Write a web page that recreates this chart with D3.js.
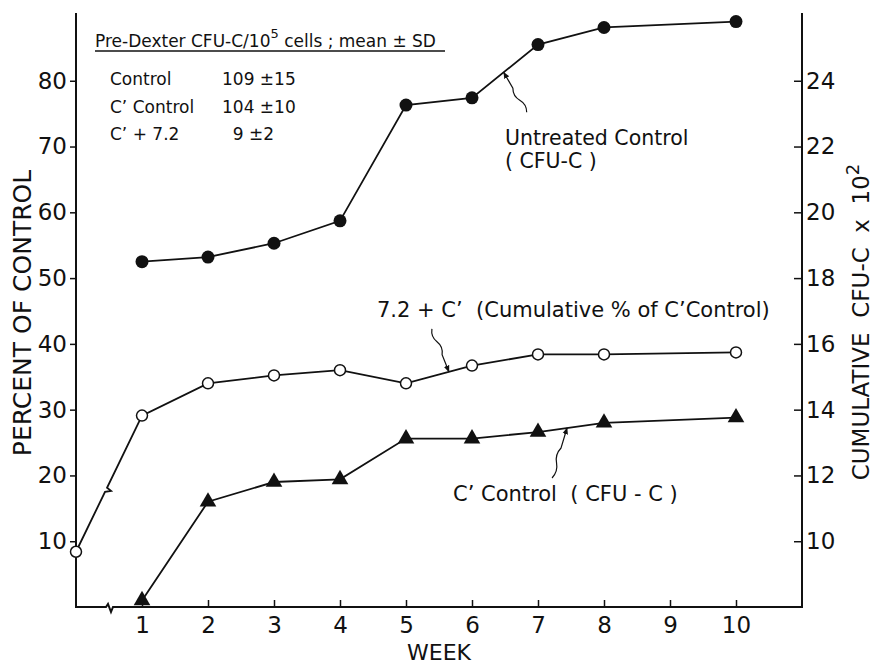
<!DOCTYPE html>
<html>
<head>
<meta charset="utf-8">
<script src="https://cdn.jsdelivr.net/npm/d3@7"></script>
<style>
  body { margin: 0; background: #fff; }
  text { font-family: "DejaVu Sans", sans-serif; fill: #111; white-space: pre; }
</style>
</head>
<body>
<script>
// data
var weeks = [1, 2, 3, 4, 5, 6, 7, 8, 10];
var untreated = [52.5, 53.2, 55.3, 58.7, 76.3, 77.4, 85.5, 88.1, 89.0];
var cumWeeks = [0, 1, 2, 3, 4, 5, 6, 7, 8, 10];
var cumulative = [8.4, 29.1, 34.0, 35.2, 36.0, 34.0, 36.7, 38.4, 38.4, 38.7];
var cControl = [1.0, 16.0, 19.0, 19.4, 25.6, 25.6, 26.6, 28.0, 28.8];

var leftTicks = [10, 20, 30, 40, 50, 60, 70, 80];
var rightTicks = [10, 12, 14, 16, 18, 20, 22, 24];
var weekTicks = [1, 2, 3, 4, 5, 6, 7, 8, 9, 10];

var tableNames = ["Control", "C\u2019 Control", "C\u2019 + 7.2"];
var tableValues = ["109 \u00b115", "104 \u00b110", "  9 \u00b12"];

var width = 875, height = 665;
var pLeft = 76, pRight = 802, pTop = 13, pBottom = 607;
var yMax = 90.3;

var svg = d3.select("body").append("svg")
    .attr("width", width)
    .attr("height", height);

var x = d3.scaleLinear().domain([0, 11]).range([pLeft, pRight]);
var y = d3.scaleLinear().domain([0, yMax]).range([pBottom, pTop]);
// right axis: cumulative CFU-C x 10^2, 24 sits on 80, 10 on 10
var yR = d3.scaleLinear().domain([8, 8 + yMax / 5]).range([pBottom, pTop]);

var defs = svg.append("defs");
defs.append("marker")
    .attr("id", "arrow")
    .attr("viewBox", "0 0 10 10")
    .attr("refX", 9).attr("refY", 5)
    .attr("markerWidth", 7).attr("markerHeight", 7)
    .attr("markerUnits", "userSpaceOnUse")
    .attr("orient", "auto")
  .append("path")
    .attr("d", "M0,1 L10,5 L0,9 Z")
    .attr("fill", "#111");

// axis lines, with the break on the week axis
var xb = x(0.5);
svg.append("path")
    .attr("d", "M" + pLeft + "," + pTop + " L" + pLeft + "," + pBottom +
        " L" + (xb - 3) + "," + pBottom + " L" + (xb - 1) + "," + (pBottom - 3) +
        " L" + (xb + 2) + "," + (pBottom + 5) + " L" + (xb + 4) + "," + pBottom +
        " L" + pRight + "," + pBottom + " L" + pRight + "," + pTop)
    .attr("fill", "none")
    .attr("stroke", "#111")
    .attr("stroke-width", 2);

var gl = svg.append("g")
    .attr("transform", "translate(" + pLeft + ",0)")
    .call(d3.axisLeft(y).tickValues(leftTicks).tickSize(6).tickPadding(3)
        .tickFormat(d3.format("d")));
var gr = svg.append("g")
    .attr("transform", "translate(" + pRight + ",0)")
    .call(d3.axisRight(yR).tickValues(rightTicks).tickSize(-8).tickPadding(4)
        .tickFormat(d3.format("d")));
var gb = svg.append("g")
    .attr("transform", "translate(0," + pBottom + ")")
    .call(d3.axisBottom(x).tickValues(weekTicks).tickSize(-7).tickPadding(10)
        .tickFormat(d3.format("d")));

[gl, gr, gb].forEach(function(g) {
    g.select(".domain").remove();
    g.selectAll(".tick line").attr("stroke", "#111").attr("stroke-width", 1.5);
    g.selectAll(".tick text")
        .style("font-family", "DejaVu Sans")
        .style("font-size", "23px")
        .attr("fill", "#111");
});

// axis titles
svg.append("text")
    .attr("transform", "translate(31,313) rotate(-90)")
    .attr("text-anchor", "middle")
    .style("font-size", "25px")
    .text("PERCENT OF CONTROL");

var rt = svg.append("text")
    .attr("transform", "translate(869,322) rotate(-90)")
    .attr("text-anchor", "middle")
    .style("font-size", "23px");
rt.append("tspan").text("CUMULATIVE  CFU-C  x  10");
rt.append("tspan").attr("dy", -10).style("font-size", "18px").text("2");

svg.append("text")
    .attr("x", x(5.5)).attr("y", 660)
    .attr("text-anchor", "middle")
    .style("font-size", "22px")
    .text("WEEK");

// lines
var line = d3.line().x(function(d) { return x(d[0]); })
    .y(function(d) { return y(d[1]); });

var untreatedPts = weeks.map(function(w, i) { return [w, untreated[i]]; });
var cumPts = cumWeeks.map(function(w, i) { return [w, cumulative[i]]; });
var cPts = weeks.map(function(w, i) { return [w, cControl[i]]; });

function lerp(pts, i, t) {
    var a = pts[i], b = pts[i + 1];
    return [x(a[0] + (b[0] - a[0]) * t), y(a[1] + (b[1] - a[1]) * t)];
}

svg.append("path").datum(untreatedPts)
    .attr("d", line).attr("fill", "none")
    .attr("stroke", "#111").attr("stroke-width", 1.8);
svg.append("path").datum(cPts)
    .attr("d", line).attr("fill", "none")
    .attr("stroke", "#111").attr("stroke-width", 1.8);

// cumulative line, with a small break in the first segment
var m1 = lerp(cumPts, 0, 0.44), m2 = lerp(cumPts, 0, 0.47);
svg.append("path")
    .attr("d", "M" + x(cumPts[0][0]) + "," + y(cumPts[0][1]) +
        " L" + m1[0] + "," + m1[1] + " L" + (m1[0] + 6) + "," + (m1[1] - 1) +
        " L" + m2[0] + "," + m2[1] + " " + line(cumPts.slice(1)).replace("M", "L"))
    .attr("fill", "none")
    .attr("stroke", "#111").attr("stroke-width", 1.8);

// markers
svg.selectAll(".dot").data(untreatedPts).enter().append("circle")
    .attr("cx", function(d) { return x(d[0]); })
    .attr("cy", function(d) { return y(d[1]); })
    .attr("r", 6.5).attr("fill", "#111");
svg.selectAll(".open").data(cumPts).enter().append("circle")
    .attr("cx", function(d) { return x(d[0]); })
    .attr("cy", function(d) { return y(d[1]); })
    .attr("r", 5.5).attr("fill", "#fff")
    .attr("stroke", "#111").attr("stroke-width", 1.5);
svg.selectAll(".tri").data(cPts).enter().append("path")
    .attr("transform", function(d) {
        return "translate(" + x(d[0]) + "," + y(d[1]) + ")";
    })
    .attr("d", d3.symbol().type(d3.symbolTriangle).size(120))
    .attr("fill", "#111");

// leaders
function leader(tip, dx, dy) {
    var tx = tip[0] + dx, ty = tip[1] + dy;
    var vx = tip[0] - tx, vy = tip[1] - ty;
    var len = Math.sqrt(vx * vx + vy * vy);
    var px = -vy / len * 4, py = vx / len * 4;
    var p1 = [tx + vx * 0.15 + px, ty + vy * 0.15 + py];
    var p2 = [tx + vx * 0.3, ty + vy * 0.3];
    var p3 = [tx + vx * 0.45 - px, ty + vy * 0.45 - py];
    var p4 = [tx + vx * 0.6, ty + vy * 0.6];
    svg.append("path")
        .attr("d", "M" + tx + "," + ty + " Q" + p1 + " " + p2 +
            " Q" + p3 + " " + p4 + " L" + tip[0] + "," + tip[1])
        .attr("fill", "none")
        .attr("stroke", "#111").attr("stroke-width", 1.2)
        .attr("marker-end", "url(#arrow)");
}
leader(lerp(untreatedPts, 5, 0.48), 23, 40);
leader(lerp(cumPts, 5, 0.65), -17, -43);
leader(lerp(cPts, 6, 0.44), -15, 50);

// annotations
svg.append("text").attr("x", 505).attr("y", 145)
    .style("font-size", "20.5px").text("Untreated Control");
svg.append("text").attr("x", 505).attr("y", 168)
    .style("font-size", "20.5px").text("( CFU-C )");
svg.append("text").attr("x", 377).attr("y", 317)
    .style("font-size", "21px")
    .text("7.2 + C\u2019  (Cumulative % of C\u2019Control)");
svg.append("text").attr("x", 453).attr("y", 501)
    .style("font-size", "21px").text("C\u2019 Control  ( CFU - C )");

// inset table
var head = svg.append("text").attr("x", 95).attr("y", 46.5)
    .style("font-size", "17px");
head.append("tspan").text("Pre-Dexter CFU-C/10");
head.append("tspan").attr("dy", -9).style("font-size", "13px").text("5");
head.append("tspan").attr("dy", 9).text(" cells ; mean \u00b1 SD");
svg.append("line")
    .attr("x1", 95).attr("x2", 445).attr("y1", 51).attr("y2", 51)
    .attr("stroke", "#111").attr("stroke-width", 1.3);

tableNames.forEach(function(n, i) {
    svg.append("text").attr("x", 110).attr("y", 85 + i * 27.5)
        .style("font-size", "17px").text(n);
    svg.append("text").attr("x", 222).attr("y", 85 + i * 27.5)
        .style("font-size", "17px").text(tableValues[i]);
});
</script>
</body>
</html>
